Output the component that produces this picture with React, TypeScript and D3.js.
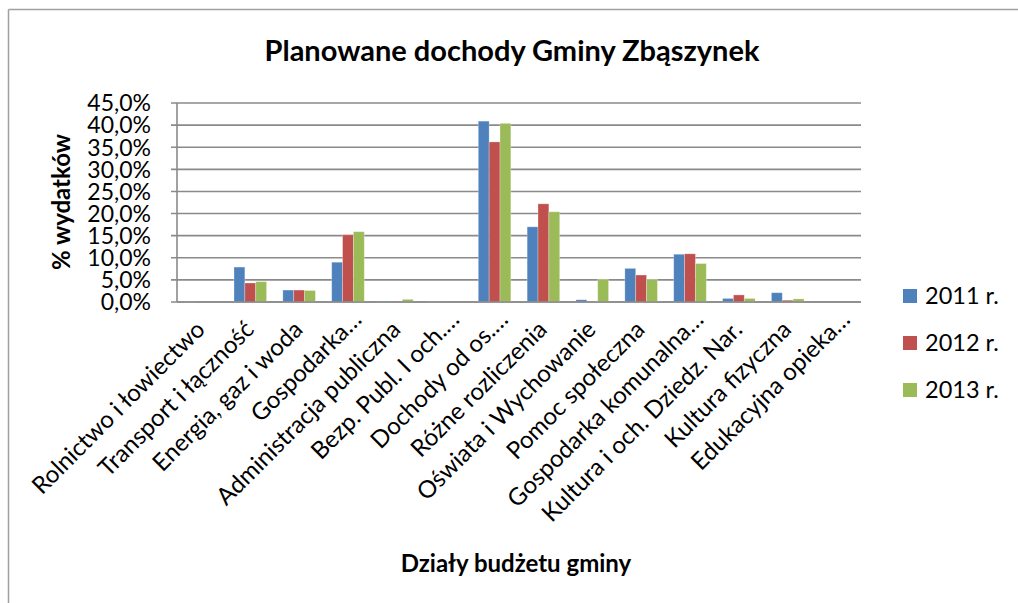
import React from "react";
import * as d3 from "d3";

const categories = [
  "Rolnictwo i łowiectwo",
  "Transport i łączność",
  "Energia, gaz i woda",
  "Gospodarka…",
  "Administracja publiczna",
  "Bezp. Publ. I och.…",
  "Dochody od os.…",
  "Różne rozliczenia",
  "Oświata i Wychowanie",
  "Pomoc społeczna",
  "Gospodarka komunalna…",
  "Kultura i och. Dziedz. Nar.",
  "Kultura fizyczna",
  "Edukacyjna opieka…",
];

const seriesNames = ["2011 r.", "2012 r.", "2013 r."];
const values2011 = [0.1, 7.9, 2.7, 9.0, 0.2, 0.1, 40.9, 17.0, 0.5, 7.6, 10.8, 0.8, 2.1, 0.0];
const values2012 = [0.0, 4.3, 2.7, 15.2, 0.2, 0.0, 36.2, 22.2, 0.1, 6.1, 10.9, 1.6, 0.4, 0.0];
const values2013 = [0.0, 4.6, 2.6, 15.9, 0.6, 0.0, 40.4, 20.4, 5.1, 5.1, 8.7, 0.8, 0.7, 0.0];
const seriesColors = ["#4F81BD", "#C0504D", "#9BBB59"];
const yTicks = [0, 5, 10, 15, 20, 25, 30, 35, 40, 45];

const title = "Planowane dochody Gminy Zbąszynek";
const yTitle = "% wydatków";
const xTitle = "Działy budżetu gminy";

const W = 1018;
const H = 603;
const FONT = "Lato, 'Open Sans', sans-serif";

export default function App() {
  const plotLeft = 177;
  const plotRight = 861;
  const plotTop = 103;
  const plotBottom = 302;

  const x0 = d3.scaleBand<string>().domain(categories).range([plotLeft, plotRight]).padding(0);
  const bw = x0.bandwidth();
  const gap = bw * 1.5 / 4.5;
  const x1 = d3.scaleBand<string>().domain(seriesNames).range([gap / 2, bw - gap / 2]).padding(0);
  const y = d3.scaleLinear().domain([0, 45]).range([plotBottom, plotTop]);
  const fmt = (v: number) => d3.format(".1f")(v).replace(".", ",") + "%";

  const series = [values2011, values2012, values2013];
  const grid = "#8a8a8a";

  return (
    <svg width={W} height={H} style={{ position: "absolute", left: 0, top: 0, background: "#fff" }} fontFamily={FONT}>
      <rect x={0} y={0} width={W} height={H} fill="#fff" />
      {/* outer border */}
      <line x1={8.5} y1={9.5} x2={W} y2={9.5} stroke="#a0a0a0" strokeWidth={1.5} />
      <line x1={8.5} y1={9.5} x2={8.5} y2={H} stroke="#a0a0a0" strokeWidth={1.5} />

      <text x={512} y={61} textAnchor="middle" fontSize={29} fontWeight="bold" fill="#000">
        {title}
      </text>

      {/* gridlines */}
      {yTicks.map((t) => (
        <g key={t}>
          <line x1={plotLeft - 6} x2={plotRight} y1={y(t)} y2={y(t)} stroke={grid} strokeWidth={1.6} />
          <text x={151} y={y(t)} dy="0.36em" textAnchor="end" fontSize={23} fill="#000">
            {fmt(t)}
          </text>
        </g>
      ))}
      <line x1={plotLeft} x2={plotLeft} y1={plotTop} y2={plotBottom} stroke={grid} strokeWidth={1.6} />

      {/* bars */}
      {categories.map((c, i) => (
        <g key={c} transform={`translate(${x0(c)},0)`}>
          {seriesNames.map((s, j) => {
            const v = series[j][i];
            const yy = y(v);
            return (
              <rect
                key={s}
                x={x1(s)!}
                y={yy}
                width={x1.bandwidth()}
                height={Math.max(0, plotBottom - yy)}
                fill={seriesColors[j]}
                stroke="#ffffff"
                strokeOpacity={0.35}
                strokeWidth={0.8}
              />
            );
          })}
        </g>
      ))}
      <line x1={plotLeft} x2={plotRight} y1={plotBottom} y2={plotBottom} stroke={grid} strokeWidth={1.6} />

      {/* x labels */}
      {categories.map((c) => {
        const cx = x0(c)! + bw / 2;
        const trunc = c.endsWith("…");
        const ax = cx + 5 + (trunc ? 10 : 0);
        const ay = 331 - (trunc ? 10 : 0);
        return (
          <text key={c} transform={`translate(${ax},${ay}) rotate(-45)`} textAnchor="end" fontSize={24} fill="#000">
            {c}
          </text>
        );
      })}

      {/* axis titles */}
      <text transform={`translate(70,202) rotate(-90)`} textAnchor="middle" fontSize={24} fontWeight="bold" fill="#000">
        {yTitle}
      </text>
      <text x={516} y={572} textAnchor="middle" fontSize={24} fontWeight="bold" fill="#000">
        {xTitle}
      </text>

      {/* legend */}
      {seriesNames.map((s, j) => (
        <g key={s} transform={`translate(903,${296 + j * 47})`}>
          <rect x={0} y={-7} width={14} height={14} fill={seriesColors[j]} />
          <text x={22} y={0} dy="0.36em" fontSize={23.5} fill="#000">
            {s}
          </text>
        </g>
      ))}
    </svg>
  );
}
